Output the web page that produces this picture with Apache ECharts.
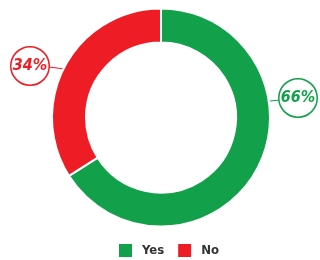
<!DOCTYPE html>
<html><head><meta charset="utf-8">
<script src="https://cdn.jsdelivr.net/npm/echarts@6/dist/echarts.min.js"></script>
<style>html,body{margin:0;padding:0;background:#fff}#c{width:320px;height:260px}</style>
</head><body><div id="c"></div>
<script>
var categories = ['Yes', 'No'];
var values = [66, 34];
var colors = ['#13a04b', '#ee1d25'];
var labelSpots = [[298, 98], [30, 66]];
var labelLines = [[[270, 101], [275, 100.5], [280, 100]], [[64, 69], [57, 68], [49, 67]]];

var chart = echarts.init(document.getElementById('c'), null, {renderer: 'canvas'});
var font = '"DejaVu Sans Condensed", "Liberation Sans Narrow", sans-serif';
chart.setOption({
  animation: false,
  color: colors,
  legend: {
    bottom: 1, left: 117, padding: 0,
    icon: 'rect', itemWidth: 15, itemHeight: 15, itemGap: 12,
    textStyle: {fontFamily: font, fontWeight: 'bold', fontSize: 13, color: '#333', padding: [0, 0, 0, 4]},
    data: categories
  },
  series: [{
    type: 'pie',
    center: [161, 117.5],
    radius: [75, 109],
    startAngle: 90,
    clockwise: true,
    itemStyle: {borderColor: '#fff', borderWidth: 2},
    label: {
      show: true,
      position: 'outside',
      formatter: function(p){ return p.value + '%'; },
      fontFamily: font, fontWeight: 'bold', fontStyle: 'italic', fontSize: 16,
      backgroundColor: '#fff',
      borderWidth: 1.5,
      borderRadius: 20,
      width: 37, height: 37, lineHeight: 37,
      align: 'center', verticalAlign: 'middle'
    },
    labelLine: {show: true, length: 8, length2: 8, smooth: false, lineStyle: {width: 1.2}},
    labelLayout: function(p){
      var s = labelSpots[p.dataIndex];
      return {x: s[0], y: s[1], align: 'center', verticalAlign: 'middle', labelLinePoints: labelLines[p.dataIndex]};
    },
    data: categories.map(function(c, i){
      return {
        name: c, value: values[i],
        label: {color: colors[i], borderColor: colors[i]},
        labelLine: {lineStyle: {color: colors[i]}}
      };
    })
  }]
});
</script></body></html>
